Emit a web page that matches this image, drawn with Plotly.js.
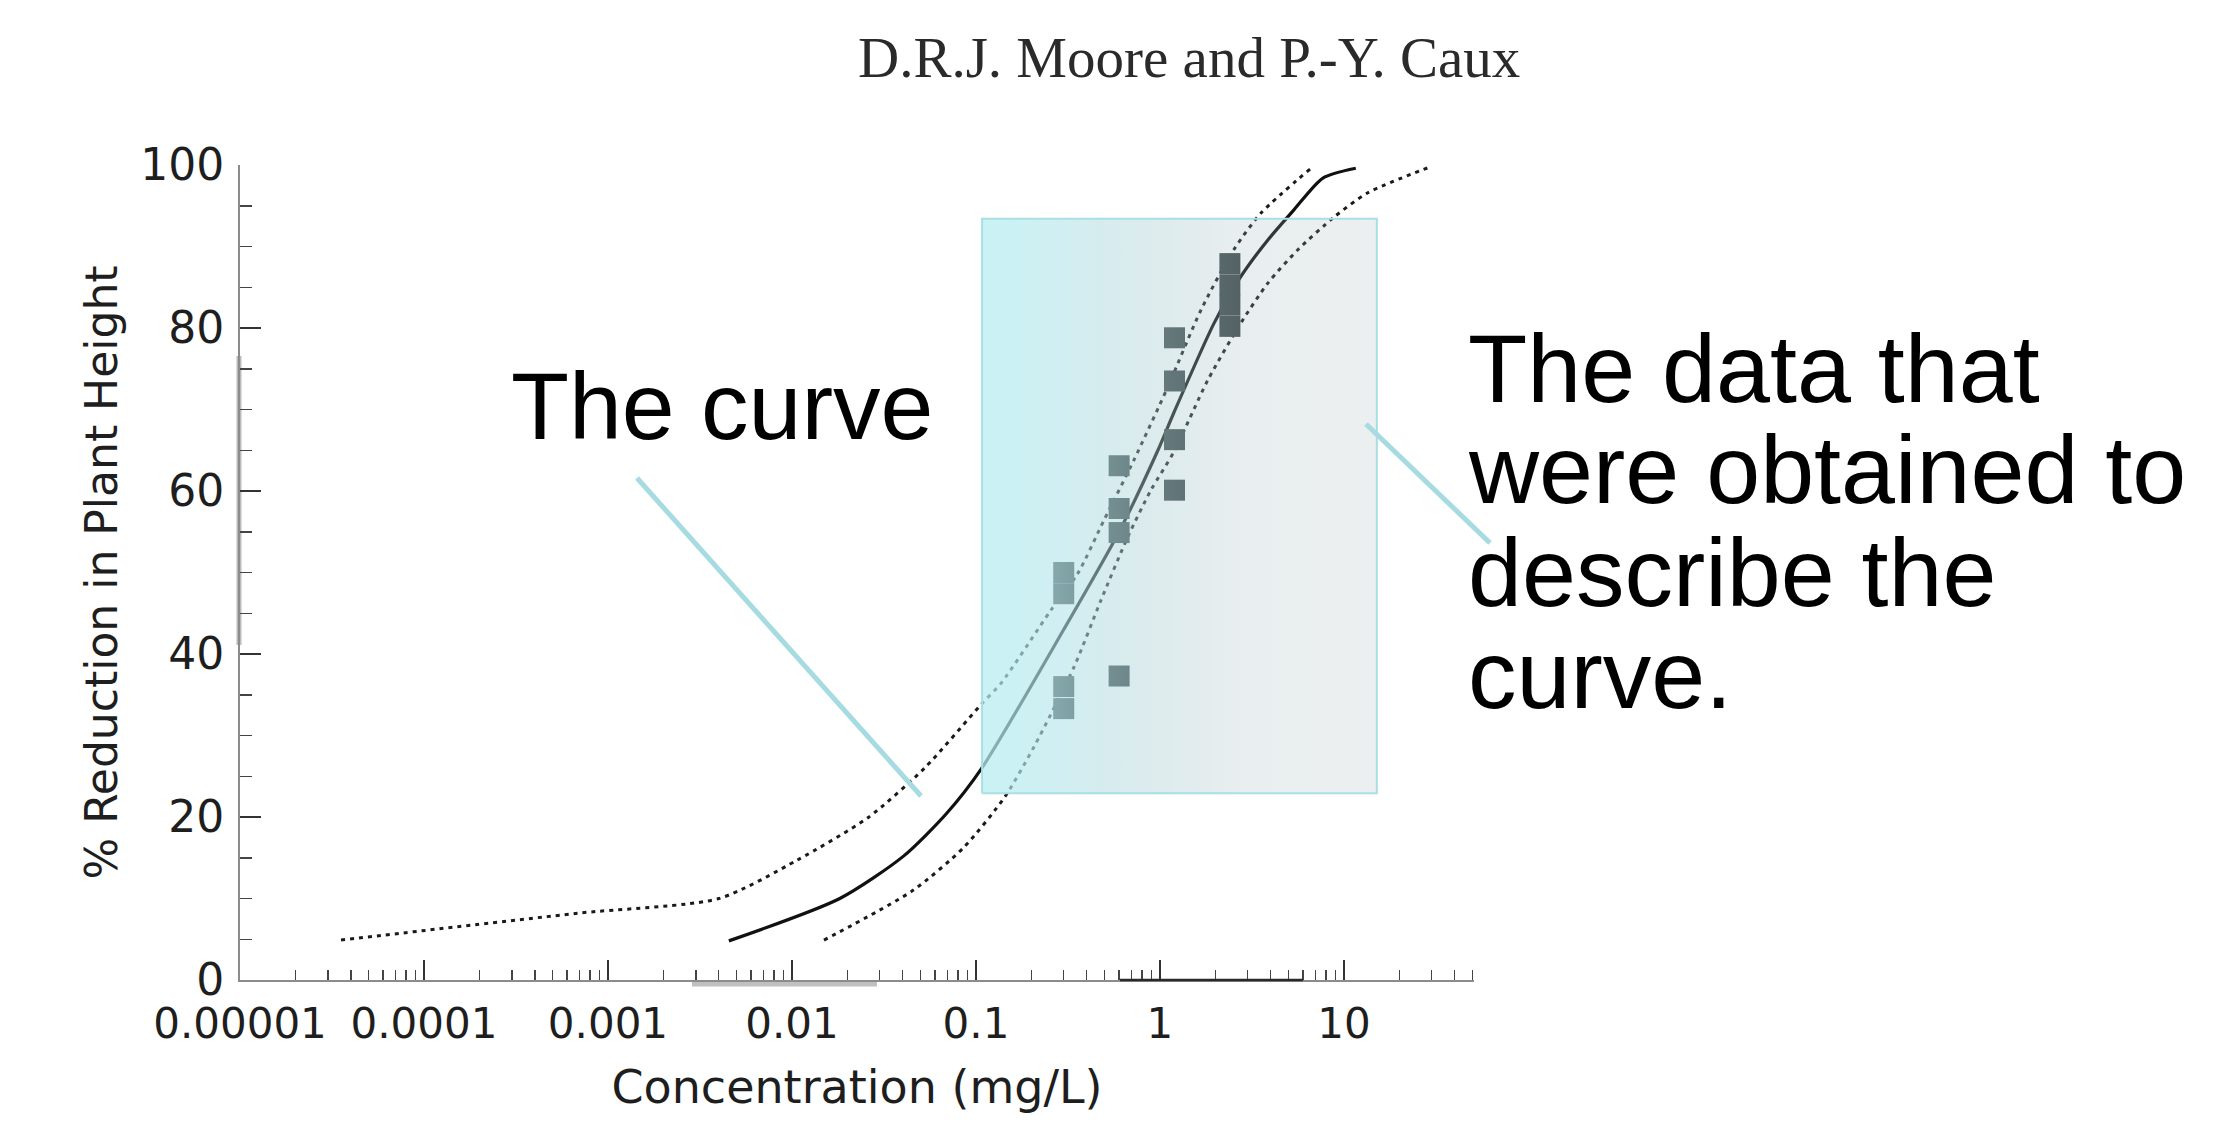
<!DOCTYPE html>
<html>
<head>
<meta charset="utf-8">
<script src="https://cdn.plot.ly/plotly-3.0.1.min.js"></script>
<style>
  html, body { margin: 0; padding: 0; background: #ffffff; }
  #chart { width: 2229px; height: 1122px; }
</style>
</head>
<body>
<div id="chart"></div>
<script>
// ---------------- data ----------------
// fitted concentration-response curve
const curveX = [0.00454, 0.0182, 0.0404, 0.069, 0.1076, 0.3, 0.6, 0.975, 1.19, 1.97, 2.75, 3.86, 5.35, 7.69, 11.6];
const curveY = [4.8, 10.0, 15.2, 20.4, 26.0, 43.0, 55.0, 65.0, 69.6, 80.6, 86.3, 90.8, 94.5, 98.4, 99.6];

// upper confidence band (dotted)
const upperX = [3.54e-5, 6.87e-4, 0.00401, 0.01066, 0.026, 0.0528, 0.1076, 0.1368, 0.256, 0.358, 0.496, 0.722, 1.105, 1.67, 2.52, 3.54, 6.62];
const upperY = [4.9, 8.2, 10.0, 14.7, 19.95, 26.05, 33.9, 36.4, 45.4, 49.9, 56.4, 63.8, 72.8, 82.2, 89.6, 94.1, 99.6];

// lower confidence band (dotted)
const lowerX = [0.01493, 0.0455, 0.0861, 0.1438, 0.2066, 0.341, 0.478, 0.670, 0.893, 1.19, 1.82, 2.75, 3.86, 5.62, 8.83, 13.5, 29.7];
const lowerY = [4.9, 11.0, 16.3, 22.5, 28.6, 38.4, 46.6, 54.4, 60.1, 64.8, 73.6, 80.6, 85.5, 89.6, 93.6, 96.6, 99.8];

// observed test data
const obsX = [0.3, 0.3, 0.3, 0.3, 0.6, 0.6, 0.6, 0.6, 1.2, 1.2, 1.2, 1.2, 2.4, 2.4, 2.4, 2.4];
const obsY = [50.0, 47.4, 36.0, 33.3, 63.1, 57.85, 54.9, 37.3, 78.8, 73.5, 66.3, 60.1, 87.9, 85.3, 82.8, 80.2];

// axis ticks
const xTickVals = [1e-5, 1e-4, 1e-3, 1e-2, 1e-1, 1, 10];
const xTickText = ['0.00001', '0.0001', '0.001', '0.01', '0.1', '1', '10'];
const yTickVals = [0, 20, 40, 60, 80, 100];
const yTickText = ['0', '20', '40', '60', '80', '100'];

// highlight box (decoration, data coordinates)
const boxX = [0.108, 15.1];
const boxY = [22.9, 93.4];

// texts
const headerText = 'D.R.J. Moore and P.-Y. Caux';
const xTitle = 'Concentration (mg/L)';
const yTitle = '% Reduction in Plant Height';
const curveLabel = 'The curve';
const dataLabelLines = ['The data that', 'were obtained to', 'describe the', 'curve.'];

// ---------------- layout geometry (pixels) ----------------
const W = 2229, H = 1122;
const PL = 240, PR = 1474, PT = 165, PB = 980;
const pw = PR - PL, ph = PB - PT;
const px = v => (v - PL) / pw;
const py = v => (PB - v) / ph;

// minor tick positions for log axis
const minorVals = [];
for (let e = -5; e <= 1; e++) {
  for (let d = 2; d <= 9; d++) {
    const v = d * Math.pow(10, e);
    if (v <= 52) minorVals.push(v);
  }
}

const dotted = '4px,5px';

const traces = [
  { x: upperX, y: upperY, type: 'scatter', mode: 'lines', hoverinfo: 'skip',
    line: { color: '#1a1a1a', width: 3, dash: dotted, shape: 'spline', smoothing: 0.7 } },
  { x: lowerX, y: lowerY, type: 'scatter', mode: 'lines', hoverinfo: 'skip',
    line: { color: '#1a1a1a', width: 3, dash: dotted, shape: 'spline', smoothing: 0.7 } },
  { x: curveX, y: curveY, type: 'scatter', mode: 'lines', hoverinfo: 'skip',
    line: { color: '#111111', width: 3.2, shape: 'spline', smoothing: 0.7 } },
  { x: obsX, y: obsY, type: 'scatter', mode: 'markers', hoverinfo: 'skip',
    marker: { symbol: 'square', size: 21, color: '#3c4748', line: { width: 0 } } },
  // translucent gradient highlight box drawn over the data
  { x: [boxX[0], boxX[1], boxX[1], boxX[0], boxX[0]],
    y: [boxY[0], boxY[0], boxY[1], boxY[1], boxY[0]],
    type: 'scatter', mode: 'lines', fill: 'toself', hoverinfo: 'skip',
    line: { color: '#a9dfe3', width: 2 },
    fillgradient: { type: 'horizontal', colorscale: [
      [0, 'rgba(182,238,242,0.74)'],
      [0.2, 'rgba(178,228,233,0.60)'],
      [0.35, 'rgba(172,214,219,0.47)'],
      [0.5, 'rgba(166,200,205,0.35)'],
      [0.65, 'rgba(160,186,190,0.24)'],
      [1, 'rgba(150,168,174,0.18)']
    ] } }
];

const layout = {
  width: W, height: H,
  margin: { l: PL, r: W - PR, t: PT, b: H - PB, pad: 0 },
  paper_bgcolor: '#ffffff', plot_bgcolor: 'rgba(0,0,0,0)',
  showlegend: false,
  font: { family: 'DejaVu Sans, sans-serif', color: '#1e1e1e' },
  xaxis: {
    type: 'log', range: [-5, 1.707], autorange: false,
    showgrid: false, zeroline: false,
    showline: true, linecolor: '#8c8c8c', linewidth: 2,
    ticks: 'inside', ticklen: 20, tickwidth: 1.5, tickcolor: '#333333',
    tickmode: 'array', tickvals: xTickVals, ticktext: xTickText,
    tickfont: { family: 'DejaVu Sans, sans-serif', size: 42, color: '#1e1e1e' },
    ticklabelstandoff: 6,
    minor: { tickmode: 'array', tickvals: minorVals, ticks: 'inside', ticklen: 10, tickwidth: 1.5, tickcolor: '#444444', showgrid: false },
    title: { text: xTitle, font: { family: 'DejaVu Sans, sans-serif', size: 46, color: '#1e1e1e' }, standoff: 23 },
    automargin: false
  },
  yaxis: {
    range: [0, 100], autorange: false,
    showgrid: false, zeroline: false,
    showline: true, linecolor: '#8c8c8c', linewidth: 2,
    ticks: 'inside', ticklen: 21, tickwidth: 1.5, tickcolor: '#333333',
    tickmode: 'array', tickvals: yTickVals, ticktext: yTickText,
    tickfont: { family: 'DejaVu Sans, sans-serif', size: 44, color: '#1e1e1e' },
    ticklabelstandoff: 5,
    minor: { dtick: 5, ticks: 'inside', ticklen: 12, tickwidth: 1.5, tickcolor: '#444444', showgrid: false },
    title: { text: yTitle, font: { family: 'DejaVu Sans, sans-serif', size: 44, color: '#1e1e1e' }, standoff: 9 },
    automargin: false
  },
  shapes: [
    // scan artefacts along the axes of the reproduced figure
    { type: 'line', xref: 'paper', yref: 'paper', x0: px(692), y0: py(984), x1: px(877), y1: py(984),
      line: { color: 'rgba(140,140,140,0.55)', width: 5 }, layer: 'below' },
    { type: 'line', xref: 'paper', yref: 'paper', x0: px(1120), y0: py(980), x1: px(1303), y1: py(980),
      line: { color: '#2a2a2a', width: 2.5 }, layer: 'above' },
    { type: 'line', xref: 'paper', yref: 'paper', x0: px(239), y0: py(356), x1: px(239), y1: py(645),
      line: { color: 'rgba(140,140,140,0.6)', width: 5 }, layer: 'below' },
    // pointer line for "The curve"
    { type: 'line', xref: 'paper', yref: 'paper', x0: px(637), y0: py(478), x1: px(921), y1: py(796),
      line: { color: '#a6dce1', width: 5 }, layer: 'above' },
    // pointer line for the data box
    { type: 'line', xref: 'paper', yref: 'paper', x0: px(1366), y0: py(424), x1: px(1490), y1: py(543),
      line: { color: '#a6dce1', width: 5 }, layer: 'above' }
  ],
  annotations: [
    { text: headerText, xref: 'paper', yref: 'paper', x: px(1189), y: py(57), xanchor: 'center', yanchor: 'middle',
      showarrow: false, font: { family: 'Liberation Serif, Times New Roman, serif', size: 57, color: '#2a2a2a' } },
    { text: curveLabel, xref: 'paper', yref: 'paper', x: px(509), y: py(406), xanchor: 'left', yanchor: 'middle',
      showarrow: false, font: { family: 'Liberation Sans, Arial, sans-serif', size: 95, color: '#000000' } }
  ]
};

const lineBase = [402, 504, 606, 708];
dataLabelLines.forEach((t, i) => {
  layout.annotations.push({
    text: t, xref: 'paper', yref: 'paper', x: px(1466), y: py(lineBase[i] - 34), xanchor: 'left', yanchor: 'middle',
    showarrow: false, font: { family: 'Liberation Sans, Arial, sans-serif', size: 97, color: '#000000' }
  });
});

Plotly.newPlot('chart', traces, layout, { staticPlot: true, displayModeBar: false });
</script>
</body>
</html>
